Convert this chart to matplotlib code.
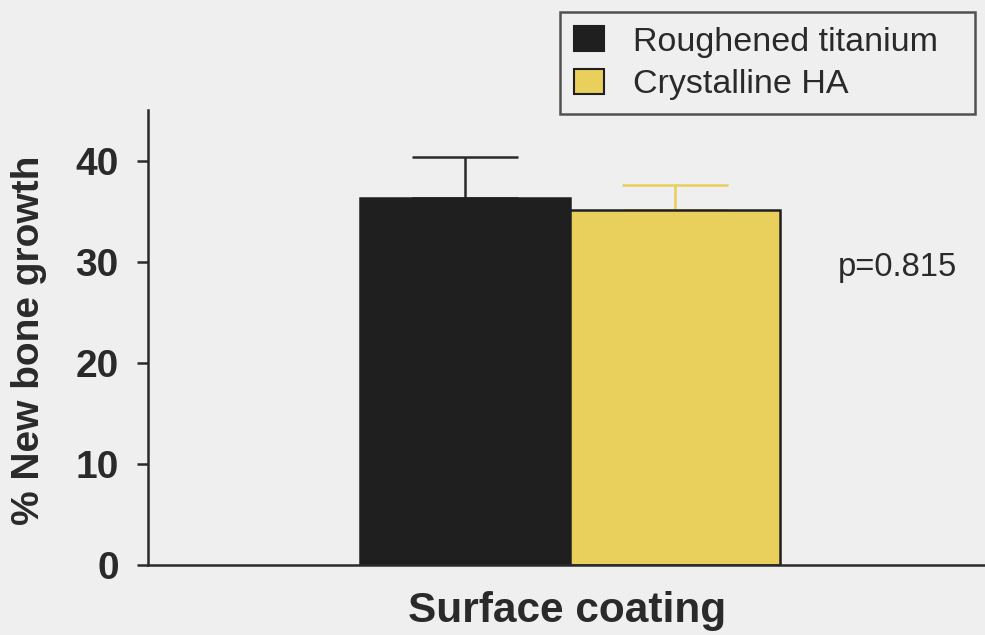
import matplotlib
matplotlib.use("Agg")
from matplotlib import pyplot as plt
from matplotlib.patches import Patch

# group means and upper error (SD) for new bone growth
groups = ["Roughened titanium", "Crystalline HA"]
growth = [36.3, 35.1]
sd = [4.1, 2.5]
bar_colors = ["#1f1f1f", "#e9cf5c"]
err_colors = ["#2a2a2a", "#e9cf5c"]
y_ticks = [0, 10, 20, 30, 40]
p_text = "p=0.815"

bg = "#efefef"
ink = "#2a2a2a"
fig = plt.figure(figsize=(9.85, 6.35), dpi=100, facecolor=bg)
ax = fig.add_axes([148 / 985, 1 - 565 / 635, 1 - 148 / 985, 455 / 635])
ax.set_facecolor(bg)

xs = [0, 1]
for x, val, err, col, ecol in zip(xs, growth, sd, bar_colors, err_colors):
    ax.bar(x, val, width=1.0, align="edge", color=col, edgecolor="#1f1f1f",
           linewidth=1.8, zorder=2)
    ax.errorbar(x + 0.5, val, yerr=[[0], [err]], fmt="none", ecolor=ecol,
                elinewidth=1.8, capsize=38, capthick=1.8, zorder=1)

ax.set_xlim(-1.01, 2.976)
ax.set_ylim(0, 45)
ax.set_yticks(y_ticks)
ax.set_xticks([])
for s in ["top", "right"]:
    ax.spines[s].set_visible(False)
for s in ["left", "bottom"]:
    ax.spines[s].set_linewidth(1.8)
    ax.spines[s].set_color(ink)
ax.tick_params(axis="y", length=8, width=1.8, color=ink, pad=13)
for lab in ax.get_yticklabels():
    lab.set_fontfamily("Liberation Sans")
    lab.set_fontweight("bold")
    lab.set_fontsize(28)
    lab.set_color(ink)

ax.set_ylabel("% New bone growth", fontfamily="Liberation Sans", fontweight="bold",
              fontsize=28, color=ink)
ax.yaxis.set_label_coords((47 - 148) / 837, 0.4945)

fig.text(567 / 985, 1 - 622 / 635, "Surface coating", fontfamily="Liberation Sans",
         fontweight="bold", fontsize=30.5, color=ink, ha="center", va="baseline")

ax.text(2.276, 28.6, p_text, fontfamily="Liberation Sans", fontsize=23.5,
        color=ink, ha="left", va="baseline")

handles = [Patch(facecolor=c, edgecolor="#1f1f1f", linewidth=1.5) for c in bar_colors]
leg = fig.legend(handles, groups, loc="upper left",
                 bbox_to_anchor=(560 / 985, 1 - 117 / 635, 415 / 985, 105 / 635),
                 mode="expand", prop={"family": "Liberation Sans", "size": 24.5},
                 frameon=True, fancybox=False, edgecolor=ink, facecolor=bg,
                 handlelength=0.88, handleheight=0.76, handletextpad=0.85,
                 borderpad=0.42, labelspacing=0.32, borderaxespad=0)
leg.get_frame().set_linewidth(1.8)
for t in leg.get_texts():
    t.set_color(ink)

fig.savefig("out.png", dpi=100, facecolor=bg)
